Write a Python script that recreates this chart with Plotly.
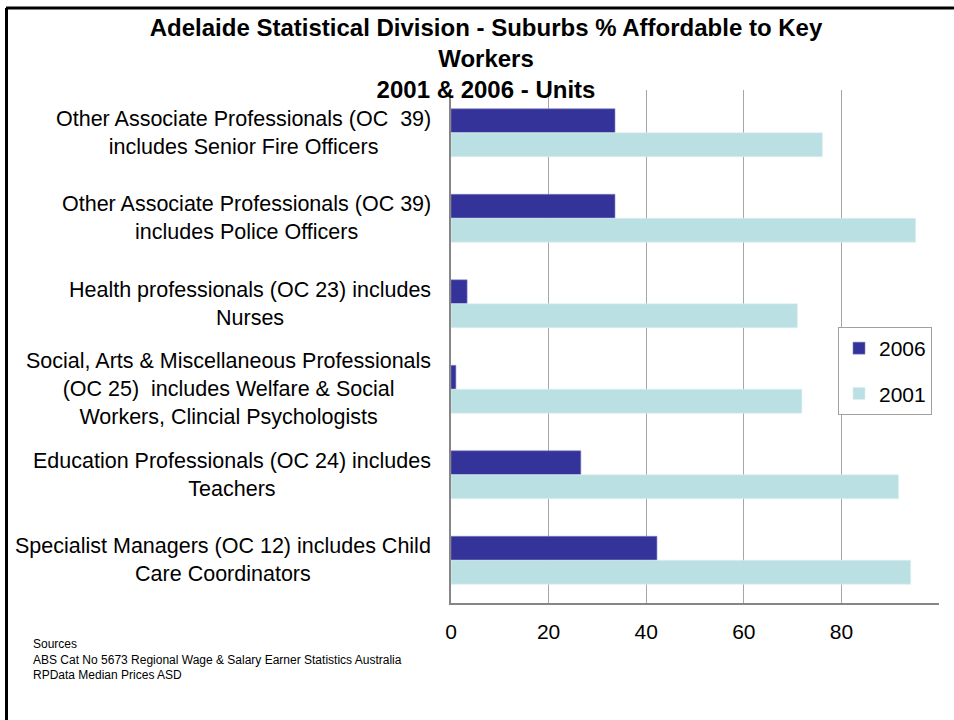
import plotly.graph_objects as go

categories = [
    "Other Associate Professionals (OC  39)<br>includes Senior Fire Officers",
    "Other Associate Professionals (OC 39)<br>includes Police Officers",
    "Health professionals (OC 23) includes<br>Nurses",
    "Social, Arts & Miscellaneous Professionals<br>(OC 25)  includes Welfare & Social<br>Workers, Clincial Psychologists",
    "Education Professionals (OC 24) includes<br>Teachers",
    "Specialist Managers (OC 12) includes Child<br>Care Coordinators",
]
values_2006 = [33.6, 33.6, 3.3, 1.0, 26.6, 42.2]
values_2001 = [76.1, 95.2, 71.0, 71.9, 91.7, 94.2]
tick_values = [0, 20, 40, 60, 80]

W, H = 954, 720
L, R, T, B = 451, 15, 90, 117
pw, ph = W - L - R, H - T - B

def px_x(x):
    return (x - L) / pw

def px_y(y):
    return (H - B - y) / ph

FONT = "Liberation Sans, Arial, sans-serif"

fig = go.Figure()
fig.add_trace(go.Bar(
    y=categories, x=values_2006, orientation="h", name="2006", legendgroup="a",
    marker=dict(color="#333399", line=dict(color="#8080C8", width=0.6)),
))
fig.add_trace(go.Bar(
    y=categories, x=values_2001, orientation="h", name="2001", legendgroup="b",
    marker=dict(color="#BBE0E3", line=dict(color="#DDF0F2", width=0.6)),
))

annotations = []
for c in categories:
    annotations.append(dict(
        xref="paper", yref="y", x=px_x(433), y=c, text=c,
        xanchor="right", yanchor="middle", align="center", showarrow=False,
        font=dict(family=FONT, size=21.5, color="#000000"),
    ))
annotations.append(dict(
    xref="paper", yref="paper", x=px_x(31), y=px_y(635), xanchor="left", yanchor="top",
    align="left", showarrow=False,
    text="Sources<br>ABS Cat No 5673 Regional Wage & Salary Earner Statistics Australia<br>RPData Median Prices ASD",
    font=dict(family=FONT, size=12, color="#000000"),
))

shapes = [
    dict(type="line", xref="paper", yref="paper", x0=px_x(6), x1=px_x(960), y0=px_y(8), y1=px_y(8),
         line=dict(color="#000000", width=3)),
    dict(type="line", xref="paper", yref="paper", x0=px_x(6.5), x1=px_x(6.5), y0=px_y(8), y1=px_y(730),
         line=dict(color="#000000", width=3)),
]

fig.update_layout(
    width=W, height=H,
    margin=dict(l=L, r=R, t=T, b=B, pad=0),
    paper_bgcolor="white", plot_bgcolor="white",
    barmode="group", bargap=0.44, bargroupgap=0,
    title=dict(
        text="<b>Adelaide Statistical Division - Suburbs % Affordable to Key<br>Workers<br>2001 & 2006 - Units</b>",
        x=486 / W, xanchor="center", xref="container",
        y=1 - 36 / H, yanchor="top", yref="container",
        font=dict(family=FONT, size=24, color="#000000"),
    ),
    xaxis=dict(
        range=[0, 100], tickvals=tick_values, showgrid=True, gridcolor="#A6A6A6", gridwidth=1,
        showline=True, linecolor="#868686", linewidth=1.5, zeroline=False, ticks="",
        ticklabelstandoff=9, tickfont=dict(family=FONT, size=21, color="#000000"),
    ),
    yaxis=dict(
        autorange="reversed", showticklabels=False, showgrid=False, showline=True,
        linecolor="#868686", linewidth=1.5, ticks="",
    ),
    legend=dict(
        x=px_x(838), y=px_y(327), xanchor="left", yanchor="top",
        bordercolor="#A0A0A0", borderwidth=1, bgcolor="white",
        font=dict(family=FONT, size=21, color="#000000"),
        tracegroupgap=15, traceorder="grouped",
    ),
    annotations=annotations, shapes=shapes,
)

fig.write_html(
    "out.html",
    config={"displayModeBar": False},
    post_script="document.body.style.margin='0px';document.body.style.overflow='hidden';",
)
